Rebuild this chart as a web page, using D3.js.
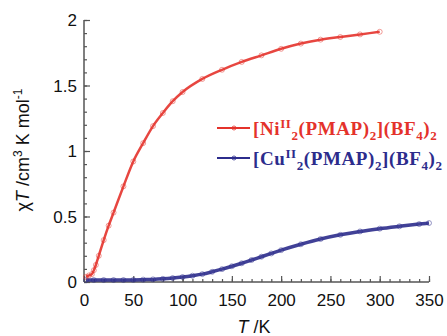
<!DOCTYPE html>
<html>
<head>
<meta charset="utf-8">
<script src="https://cdn.jsdelivr.net/npm/d3@7"></script>
<style>
  body { margin: 0; background: #fff; }
  svg { display: block; }
  .tick text { font-family: "Liberation Sans", Arial, sans-serif; font-size: 17px; fill: #111; }
</style>
</head>
<body>
<div id="chart"></div>
<script>
// temperature (K) and chi*T (cm3 K mol-1)
var ni_T = [2, 5, 8, 10, 12, 15, 20, 25, 30, 40, 50, 60, 70, 80, 90, 100, 120, 140, 160, 180, 200, 220, 240, 260, 280, 300];
var ni_chiT = [0.04, 0.05, 0.06, 0.09, 0.13, 0.2, 0.32, 0.43, 0.53, 0.73, 0.92, 1.06, 1.19, 1.29, 1.38, 1.45, 1.55, 1.62, 1.68, 1.73, 1.78, 1.82, 1.85, 1.87, 1.89, 1.91];

var cu_T = [2, 10, 20, 30, 40, 50, 60, 70, 80, 90, 100, 110, 120, 130, 140, 150, 160, 170, 180, 190, 200, 220, 240, 260, 280, 300, 320, 340, 350];
var cu_chiT = [0.015, 0.015, 0.015, 0.015, 0.015, 0.016, 0.018, 0.02, 0.024, 0.03, 0.038, 0.048, 0.06, 0.078, 0.098, 0.12, 0.143, 0.168, 0.193, 0.218, 0.243, 0.288, 0.328, 0.36, 0.386, 0.407, 0.425, 0.442, 0.45];

var x_ticks = [0, 50, 100, 150, 200, 250, 300, 350];
var y_ticks = [0, 0.5, 1, 1.5, 2];

var red = '#e4322b';
var blue = '#2c2c8c';

var width = 447, height = 336;
var svg = d3.select('#chart').append('svg')
    .attr('width', width)
    .attr('height', height);

var x = d3.scaleLinear().domain([0, 350]).range([84, 429]);
var y = d3.scaleLinear().domain([0, 2]).range([282, 20]);

// minor ticks first, then major ones with labels
svg.append('g')
    .attr('transform', 'translate(0,' + y(0) + ')')
    .call(d3.axisTop(x).tickValues(d3.range(0, 351, 10)).tickSize(3).tickFormat(''))
    .call(function(g) { g.select('.domain').remove(); })
    .selectAll('line').attr('stroke', '#555').attr('stroke-width', 1.2);

svg.append('g')
    .attr('transform', 'translate(' + x(0) + ',0)')
    .call(d3.axisRight(y).tickValues(d3.range(0, 2.01, 0.1)).tickSize(3).tickFormat(''))
    .call(function(g) { g.select('.domain').remove(); })
    .selectAll('line').attr('stroke', '#555').attr('stroke-width', 1.2);

var xAxis = svg.append('g')
    .attr('transform', 'translate(0,' + y(0) + ')')
    .call(d3.axisTop(x).tickValues(x_ticks).tickSize(6).tickPadding(0).tickFormat(d3.format('d')));
xAxis.select('.domain').attr('d', 'M' + x(0) + ',0H' + x(350)).attr('stroke', '#555').attr('stroke-width', 1.5);
xAxis.selectAll('line').attr('stroke', '#555').attr('stroke-width', 1.2);
xAxis.selectAll('text').attr('y', 24).attr('dy', 0);

var yAxis = svg.append('g')
    .attr('transform', 'translate(' + x(0) + ',0)')
    .call(d3.axisRight(y).tickValues(y_ticks).tickSize(6).tickFormat(function(d) { return d3.format('')(d); }));
yAxis.select('.domain').attr('d', 'M0,' + y(0) + 'V' + y(2)).attr('stroke', '#555').attr('stroke-width', 1.5);
yAxis.selectAll('line').attr('stroke', '#555').attr('stroke-width', 1.2);
yAxis.selectAll('text').attr('x', -7).attr('text-anchor', 'end').attr('dy', '0.35em');

var line = d3.line()
    .x(function(d) { return x(d[0]); })
    .y(function(d) { return y(d[1]); })
    .curve(d3.curveMonotoneX);

var series = [
    {T: cu_T, v: cu_chiT, color: blue, w: 3.5},
    {T: ni_T, v: ni_chiT, color: red, w: 2.5}
];

series.forEach(function(s) {
    var pts = s.T.map(function(t, i) { return [t, s.v[i]]; });
    svg.append('path')
        .datum(pts)
        .attr('fill', 'none')
        .attr('stroke', s.color)
        .attr('stroke-width', s.w)
        .attr('stroke-opacity', 0.9)
        .attr('d', line);
    svg.append('g')
        .selectAll('circle')
        .data(pts)
        .enter()
        .append('circle')
        .attr('cx', function(d) { return x(d[0]); })
        .attr('cy', function(d) { return y(d[1]); })
        .attr('r', 2.5)
        .attr('fill', 'none')
        .attr('stroke', s.color)
        .attr('stroke-opacity', 0.6)
        .attr('stroke-width', 0.8);
});

// legend
var legend = [
    {metal: 'Ni', color: red, y: 128},
    {metal: 'Cu', color: blue, y: 158}
];
legend.forEach(function(l) {
    var g = svg.append('g');
    g.append('line')
        .attr('x1', 217).attr('x2', 250)
        .attr('y1', l.y).attr('y2', l.y)
        .attr('stroke', l.color).attr('stroke-width', 1.8);
    g.append('circle')
        .attr('cx', 234).attr('cy', l.y).attr('r', 2)
        .attr('fill', 'none').attr('stroke', l.color).attr('stroke-width', 0.8);
    var t = g.append('text')
        .attr('x', 253).attr('y', l.y + 7)
        .attr('fill', l.color)
        .style('font-family', '"Liberation Serif", "Times New Roman", serif')
        .style('font-weight', 'bold')
        .style('font-size', '19px')
        .style('letter-spacing', '0.6px');
    var parts = [
        ['[' + l.metal, 0], ['II', -7], ['2', 12], ['(PMAP)', -5], ['2', 5], ['](BF', -5], ['4', 5], [')', -5], ['2', 5]
    ];
    parts.forEach(function(p) {
        var small = p[0] === 'II' || /^[24]$/.test(p[0]);
        t.append('tspan')
            .attr('dy', p[1])
            .style('font-size', small ? '13px' : '19px')
            .text(p[0]);
    });
});

// axis titles
var yt = svg.append('text')
    .attr('transform', 'translate(29,150) rotate(-90)')
    .attr('text-anchor', 'middle')
    .style('font-family', '"Liberation Sans", Arial, sans-serif')
    .style('font-size', '18px')
    .attr('fill', '#111');
yt.append('tspan').text('\u03c7');
yt.append('tspan').style('font-style', 'italic').text('T');
yt.append('tspan').text(' /cm');
yt.append('tspan').attr('dy', -7).style('font-size', '12px').text('3');
yt.append('tspan').attr('dy', 7).text(' K mol');
yt.append('tspan').attr('dy', -7).style('font-size', '12px').text('-1');

var xt = svg.append('text')
    .attr('x', 254).attr('y', 333)
    .attr('text-anchor', 'middle')
    .style('font-family', '"Liberation Sans", Arial, sans-serif')
    .style('font-size', '18px')
    .attr('fill', '#111');
xt.append('tspan').style('font-style', 'italic').text('T');
xt.append('tspan').text(' /K');
</script>
</body>
</html>
